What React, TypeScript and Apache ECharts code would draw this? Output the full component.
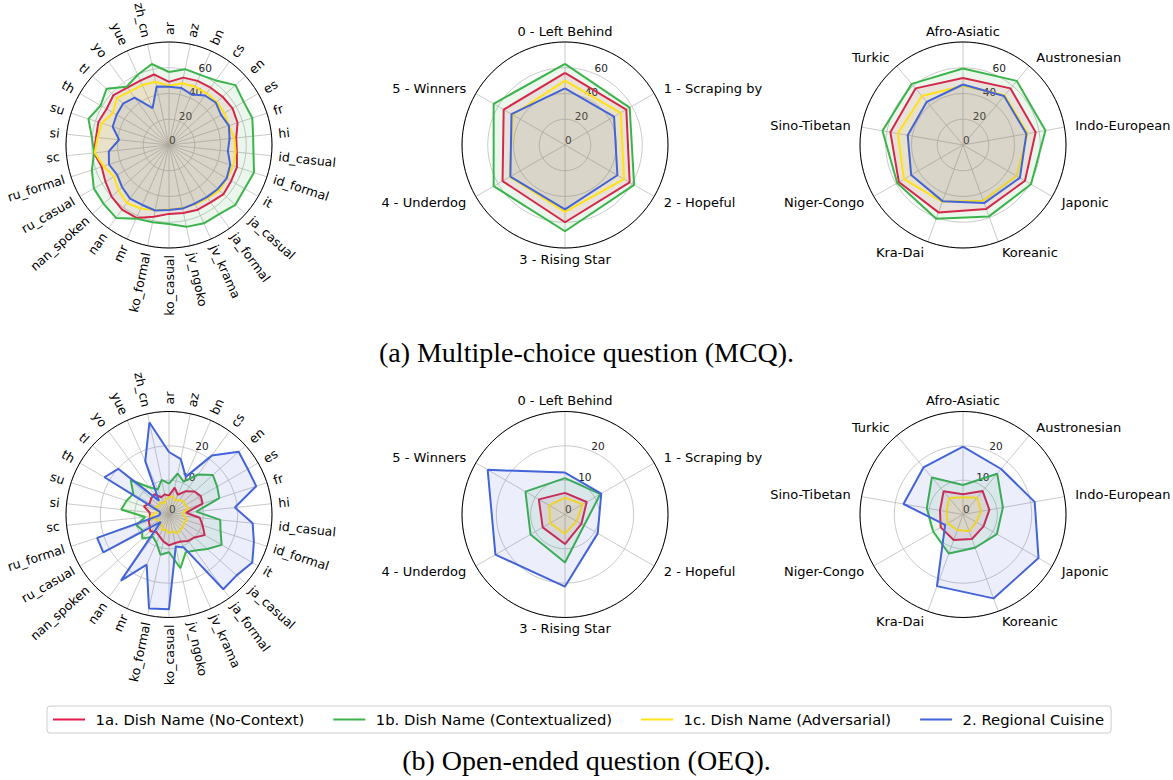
import React, { useEffect, useRef } from 'react';
import * as echarts from 'echarts';

// ---------- categories ----------
const langCats = ['ar', 'az', 'bn', 'cs', 'en', 'es', 'fr', 'hi', 'id_casual', 'id_formal', 'it', 'ja_casual', 'ja_formal', 'jv_krama', 'jv_ngoko', 'ko_casual', 'ko_formal', 'mr', 'nan', 'nan_spoken', 'ru_casual', 'ru_formal', 'sc', 'si', 'su', 'th', 'tl', 'yo', 'yue', 'zh_cn'];
const groupCats = ['0 - Left Behind', '1 - Scraping by', '2 - Hopeful', '3 - Rising Star', '4 - Underdog', '5 - Winners'];
const familyCats = ['Afro-Asiatic', 'Austronesian', 'Indo-European', 'Japonic', 'Koreanic', 'Kra-Dai', 'Niger-Congo', 'Sino-Tibetan', 'Turkic'];

const seriesNames = ['1a. Dish Name (No-Context)', '1b. Dish Name (Contextualized)', '1c. Dish Name (Adversarial)', '2. Regional Cuisine'];
const seriesColors = ['#e6194b', '#3cb44b', '#ffe119', '#4363d8'];

// radial ticks
const mcqMax = 80;
const mcqInterval = 20;
const oeqMax = 30;
const oeqInterval = 10;

// ---------- (a) MCQ ----------
const mcqLangRed = [49, 53.5, 54.5, 55, 56, 57, 56, 52.5, 53, 55.5, 55.8, 57, 55, 55, 54, 53.5, 57, 62, 62, 60, 57, 55, 58.6, 57, 57.7, 56, 58, 55, 54.8, 56];
const mcqLangGreen = [56.7, 60.2, 59.6, 62, 69.5, 67, 68, 65.7, 66, 69.4, 67.8, 69.4, 66.3, 66.6, 65, 61.4, 61.4, 62.6, 70, 68.3, 67.4, 63, 58.5, 60.3, 65.8, 61.3, 65.3, 55.9, 59.7, 64.3];
const mcqLangYellow = [46, 49, 49.7, 49.6, 50, 49.6, 49, 51, 52, 52.4, 52, 52.7, 51, 50.5, 50, 50, 51.8, 54, 55.7, 52.8, 49.3, 53.5, 58, 55.8, 54.9, 50.2, 54.6, 51.4, 51, 50.2];
const mcqLangBlue = [45.2, 45.3, 43, 47.5, 49, 46.7, 48.9, 47.3, 46, 50, 51.7, 51, 50, 49.7, 50.5, 50.4, 52, 51, 51.5, 49, 46.5, 49, 47, 39, 46, 47, 48, 45.4, 31.3, 46.4];

const mcqGroupRed = [56, 55, 58, 60, 56, 55];
const mcqGroupGreen = [63, 58, 62, 67, 64, 64];
const mcqGroupYellow = [50, 50, 53, 52, 49.5, 47];
const mcqGroupBlue = [44, 44, 47, 50, 49, 48];

const mcqFamRed = [52, 57.4, 57.3, 55.6, 52.8, 55.7, 57.5, 57.3, 57.4];
const mcqFamGreen = [59.4, 65, 65, 61, 59, 61, 59, 63.5, 62];
const mcqFamYellow = [46, 50.5, 51, 48, 46, 47, 53, 51.5, 49.6];
const mcqFamBlue = [47, 49.6, 50, 51, 48, 46.4, 46.5, 43.6, 43.8];

// ---------- (b) OEQ ----------
const oeqLangRed = [5.5, 8, 6.3, 8.4, 10, 10.7, 10.3, 5, 9, 10.3, 12, 10, 9.5, 8.6, 8.5, 9, 8, 6.9, 6.3, 7.3, 6.5, 6.2, 5.5, 5.7, 7.7, 6.5, 7, 7.3, 5.5, 6];
const oeqLangGreen = [9, 12.2, 10.5, 14.4, 17.2, 16.2, 15.4, 8, 15, 15.8, 17.7, 15, 13, 12, 16, 11, 12, 9, 8, 10.5, 9, 10, 7, 14, 13, 12, 15, 9.8, 8, 10.3];
const oeqLangYellow = [5, 5.5, 4.5, 5.2, 5.8, 5.5, 6, 4, 4.5, 5.5, 5, 5.5, 5.5, 6, 5, 5.5, 4.5, 5, 3.5, 4, 3.5, 4.5, 5.5, 4, 3.5, 4.5, 3.8, 4.5, 3.5, 4.5];
const oeqLangBlue = [18.2, 16.5, 12, 21.2, 27.3, 26.5, 26.7, 19.3, 24.5, 26, 28, 26.5, 26.9, 10.5, 9.5, 27.6, 28, 16, 23.8, 3.2, 22.1, 22, 3, 2.5, 3, 21.7, 19.9, 5, 17, 27.4];

const oeqGroupRed = [6.3, 7.3, 5.5, 8.6, 7.5, 8.8];
const oeqGroupGreen = [10.6, 11.9, 6.4, 14, 11.6, 13.3];
const oeqGroupYellow = [4.9, 6.0, 3.9, 5.6, 5.0, 5.3];
const oeqGroupBlue = [12.2, 12.2, 11.0, 21, 23.4, 26];

const oeqFamRed = [5.9, 8.9, 7.8, 6.9, 7.6, 7.9, 7.5, 6.8, 8.8];
const oeqFamGreen = [8.6, 15.5, 11.8, 11.4, 10.3, 12.1, 10, 10.7, 14.1];
const oeqFamYellow = [5.0, 6.4, 5.4, 4.4, 5.2, 4.8, 5.2, 4.9, 6.3];
const oeqFamBlue = [19.8, 17.3, 21.2, 25.4, 26, 22.2, 6, 17.6, 17.9];

const captionA = '(a) Multiple-choice question (MCQ).';
const captionB = '(b) Open-ended question (OEQ).';

const FONT = 'DejaVu Sans';

type Panel = {
  cats: string[];
  values: number[][];
  max: number;
  interval: number;
  center: [number, number];
  rotated: boolean;
};

const panels: Panel[] = [
  { cats: langCats, values: [mcqLangRed, mcqLangGreen, mcqLangYellow, mcqLangBlue], max: mcqMax, interval: mcqInterval, center: [169, 145], rotated: true },
  { cats: groupCats, values: [mcqGroupRed, mcqGroupGreen, mcqGroupYellow, mcqGroupBlue], max: mcqMax, interval: mcqInterval, center: [565, 145], rotated: false },
  { cats: familyCats, values: [mcqFamRed, mcqFamGreen, mcqFamYellow, mcqFamBlue], max: mcqMax, interval: mcqInterval, center: [963, 145], rotated: false },
  { cats: langCats, values: [oeqLangRed, oeqLangGreen, oeqLangYellow, oeqLangBlue], max: oeqMax, interval: oeqInterval, center: [169, 514.5], rotated: true },
  { cats: groupCats, values: [oeqGroupRed, oeqGroupGreen, oeqGroupYellow, oeqGroupBlue], max: oeqMax, interval: oeqInterval, center: [565, 514.5], rotated: false },
  { cats: familyCats, values: [oeqFamRed, oeqFamGreen, oeqFamYellow, oeqFamBlue], max: oeqMax, interval: oeqInterval, center: [963, 514.5], rotated: false },
];

const RADIUS = 103;

function buildOption() {
  const polar: any[] = [];
  const angleAxis: any[] = [];
  const radiusAxis: any[] = [];
  const series: any[] = [];
  const np = panels.length;

  panels.forEach((p, k) => {
    const n = p.cats.length;
    polar.push({ center: p.center, radius: RADIUS });
    angleAxis.push({
      polarIndex: k,
      type: 'value',
      min: 0,
      max: n,
      interval: 1,
      startAngle: 90,
      clockwise: true,
      axisLine: { show: true, lineStyle: { color: '#000', width: 1 } },
      axisTick: { show: false },
      axisLabel: { show: false },
      splitLine: { show: true, lineStyle: { color: '#bdbdbd', width: 0.8 } },
    });
    radiusAxis.push({
      polarIndex: k,
      type: 'value',
      min: 0,
      max: p.max,
      interval: p.interval,
      axisLine: { show: false },
      axisTick: { show: false },
      axisLabel: { show: false },
      splitLine: { show: true, lineStyle: { color: '#bdbdbd', width: 0.8 } },
    });

    p.values.forEach((vals, s) => {
      const pts = vals.map((v, i) => [v, i]);
      pts.push([vals[0], n]);
      series.push({
        type: 'line',
        name: seriesNames[s],
        coordinateSystem: 'polar',
        polarIndex: k,
        data: pts,
        symbol: 'none',
        silent: true,
        clip: false,
        lineStyle: { color: seriesColors[s], width: 2 },
        itemStyle: { color: seriesColors[s] },
        areaStyle: { color: seriesColors[s], opacity: 0.1 },
        z: 3 + s,
      });
    });

    // category labels placed just outside the circle
    const off = p.rotated ? 7 : 11;
    const labelR = p.max * (1 + off / RADIUS);
    series.push({
      type: 'scatter',
      name: 'axis-labels-' + k,
      coordinateSystem: 'polar',
      polarIndex: k,
      symbol: 'circle',
      symbolSize: 1,
      clip: false,
      silent: true,
      itemStyle: { color: 'rgba(0,0,0,0)' },
      label: {
        show: true,
        position: 'inside',
        formatter: '{b}',
        fontFamily: FONT,
        fontSize: p.rotated ? 12.5 : 13,
        color: '#000',
        opacity: 1,
        verticalAlign: 'middle',
      },
      labelLayout: { hideOverlap: false },
      data: p.cats.map((c, i) => {
        const phi = (i * 360) / n;
        const s = Math.sin((phi * Math.PI) / 180);
        let rotate = 0;
        let align = 'center';
        if (p.rotated) {
          const right = phi < 180;
          rotate = right ? 90 - phi : 270 - phi;
          align = right ? 'left' : 'right';
        } else {
          align = Math.abs(s) < 0.3 ? 'center' : s > 0 ? 'left' : 'right';
        }
        return {
          name: c,
          value: [labelR, i],
          label: { rotate, align },
        };
      }),
      z: 10,
    });
  });

  // radial tick label polars (22.5 deg clockwise from top)
  panels.forEach((p, k) => {
    const idx = np + k;
    polar.push({ center: p.center, radius: RADIUS });
    angleAxis.push({ polarIndex: idx, type: 'value', min: 0, max: 360, startAngle: 67.5, show: false });
    radiusAxis.push({
      polarIndex: idx,
      type: 'value',
      min: 0,
      max: p.max,
      interval: p.interval,
      axisLine: { show: false },
      axisTick: { show: false },
      splitLine: { show: false },
      axisLabel: {
        show: true,
        fontFamily: FONT,
        fontSize: 10.5,
        color: '#222',
        margin: 0,
        align: 'left',
        verticalAlign: 'bottom',
        formatter: (v: number) => (v >= p.max ? '' : String(v)),
      },
      z: 1,
    });
  });

  return {
    animation: false,
    backgroundColor: '#fff',
    polar,
    angleAxis,
    radiusAxis,
    series,
    legend: {
      data: seriesNames,
      left: 47,
      top: 706,
      orient: 'horizontal',
      icon: 'rect',
      itemWidth: 32,
      itemHeight: 2,
      itemGap: 29,
      padding: [6, 7, 6, 6],
      borderColor: '#cccccc',
      borderWidth: 1,
      borderRadius: 3,
      selectedMode: false,
      textStyle: { fontFamily: FONT, fontSize: 14.8, color: '#000', padding: [0, 0, 0, 5.5] },
    },
    title: [
      { text: captionA, left: 'center', top: 333, textStyle: { fontFamily: 'Liberation Serif', fontSize: 28, fontWeight: 'normal', color: '#000' } },
      { text: captionB, left: 'center', top: 741, textStyle: { fontFamily: 'Liberation Serif', fontSize: 28, fontWeight: 'normal', color: '#000' } },
    ],
  };
}

export default function App() {
  const ref = useRef<HTMLDivElement>(null);
  useEffect(() => {
    if (!ref.current) return;
    const chart = echarts.init(ref.current, undefined, { renderer: 'svg' });
    chart.setOption(buildOption() as any);
    return () => chart.dispose();
  }, []);
  return <div ref={ref} style={{ position: 'absolute', left: 0, top: 0, width: 1173, height: 780, background: '#fff' }} />;
}
